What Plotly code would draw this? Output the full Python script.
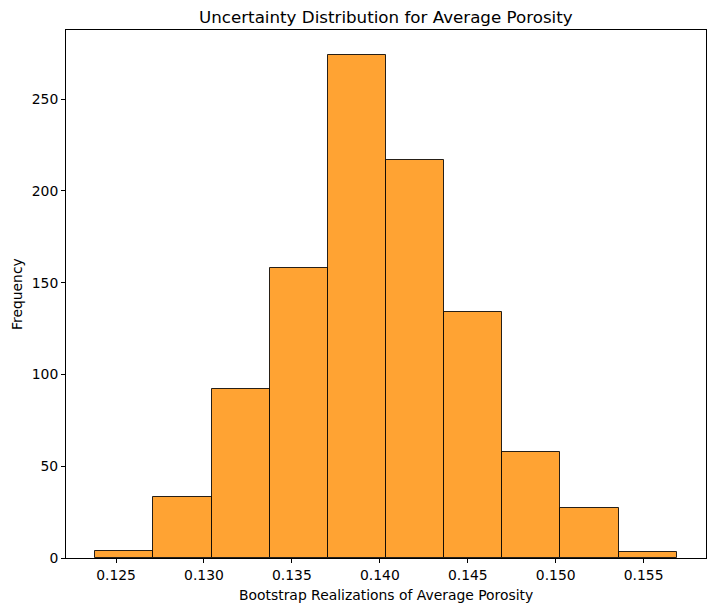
import plotly.graph_objects as go

# Data
bin_edges = [0.12381, 0.12712, 0.13043, 0.13373, 0.13704, 0.14035,
             0.14366, 0.14697, 0.15027, 0.15358, 0.15689]
counts = [4, 33, 92, 158, 274, 217, 134, 58, 27, 3]
x_ticks = [0.125, 0.130, 0.135, 0.140, 0.145, 0.150, 0.155]
y_ticks = [0, 50, 100, 150, 200, 250]

lefts = bin_edges[:-1]
widths = [b - a for a, b in zip(bin_edges[:-1], bin_edges[1:])]

fig = go.Figure(go.Bar(
    x=lefts, y=counts, width=widths, offset=0,
    marker=dict(color="#FFA333", line=dict(color="rgba(0,0,0,0.85)", width=1)),
    hoverinfo="x+y",
))

span = bin_edges[-1] - bin_edges[0]
xr = [bin_edges[0] - 0.05 * span, bin_edges[-1] + 0.05 * span]
yr = [0, max(counts) * 1.05]

font = "DejaVu Sans, Liberation Sans, sans-serif"
# page body has an 8px margin, so the figure is 8px smaller and offset
fig.update_layout(
    width=707, height=603,
    margin=dict(l=58, r=9, t=22, b=53),
    paper_bgcolor="white", plot_bgcolor="white",
    font=dict(family=font, size=13.9, color="black"),
    bargap=0, showlegend=False,
    xaxis=dict(range=xr, tickvals=x_ticks, tickformat=".3f",
               showline=True, mirror=True, linecolor="black", linewidth=1,
               ticks="outside", ticklen=4, tickwidth=1, tickcolor="black",
               showgrid=False, zeroline=False),
    yaxis=dict(range=yr, tickvals=y_ticks,
               showline=True, mirror=True, linecolor="black", linewidth=1,
               ticks="outside", ticklen=4, tickwidth=1, tickcolor="black",
               showgrid=False, zeroline=False),
    annotations=[
        dict(text="Uncertainty Distribution for Average Porosity",
             xref="paper", yref="paper", x=0.5, y=1, yshift=2, borderpad=0,
             xanchor="center", yanchor="bottom", showarrow=False,
             font=dict(size=16.7)),
        dict(text="Bootstrap Realizations of Average Porosity",
             xref="paper", yref="paper", x=0.5, y=0, yshift=-27,
             xanchor="center", yanchor="top", showarrow=False,
             font=dict(size=13.9)),
        dict(text="Frequency", textangle=-90,
             xref="paper", yref="paper", x=0, xshift=-49, y=0.5,
             xanchor="center", yanchor="middle", showarrow=False,
             font=dict(size=13.9)),
    ],
)

fig.write_html("out.html")
